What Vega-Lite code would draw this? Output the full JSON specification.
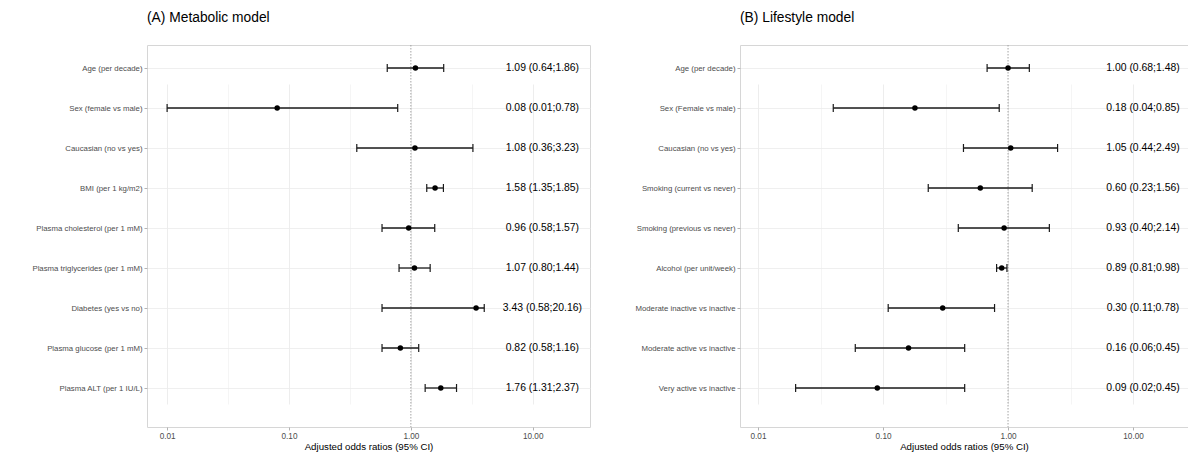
{
  "$schema": "https://vega.github.io/schema/vega-lite/v6.json",
  "padding": {"left": 0, "top": 10, "right": 0, "bottom": 0},
  "spacing": 0,
  "config": {
    "font": "Liberation Sans",
    "view": {"stroke": "#d6d6d6", "strokeWidth": 1},
    "title": {"fontSize": 13.8, "fontWeight": "normal", "anchor": "start", "frame": "group", "color": "#000000", "offset": 20},
    "axisX": {
      "labelOverlap": false,
      "labelFlush": false,
      "labelFontSize": 8.2,
      "labelColor": "#4d4d4d",
      "tickColor": "#b3b3b3",
      "tickSize": 3,
      "labelPadding": 2,
      "domain": false,
      "grid": true,
      "gridColor": "#ebebeb",
      "titleFontSize": 9.7,
      "titleFontWeight": "normal",
      "titleColor": "#000000",
      "titlePadding": 2
    },
    "axisY": {
      "title": null,
      "labelFontSize": 7.8,
      "labelColor": "#4d4d4d",
      "tickColor": "#b3b3b3",
      "tickSize": 3,
      "labelPadding": 2,
      "domain": false,
      "grid": true,
      "gridColor": "#ebebeb",
      "gridWidth": 0.8,
      "labelLimit": 0
    }
  },
  "hconcat": [
    {
      "width": 443,
      "height": 382,
      "title": "(A) Metabolic model",
      "data": {"values": [
        {"variable": "Age (per decade)", "or": 1.09, "lower": 0.64, "upper": 1.86, "label": "1.09 (0.64;1.86)"},
        {"variable": "Sex (female vs male)", "or": 0.08, "lower": 0.01, "upper": 0.78, "label": "0.08 (0.01;0.78)"},
        {"variable": "Caucasian (no vs yes)", "or": 1.08, "lower": 0.36, "upper": 3.23, "label": "1.08 (0.36;3.23)"},
        {"variable": "BMI (per 1 kg/m2)", "or": 1.58, "lower": 1.35, "upper": 1.85, "label": "1.58 (1.35;1.85)"},
        {"variable": "Plasma cholesterol (per 1 mM)", "or": 0.96, "lower": 0.58, "upper": 1.57, "label": "0.96 (0.58;1.57)"},
        {"variable": "Plasma triglycerides (per 1 mM)", "or": 1.07, "lower": 0.80, "upper": 1.44, "label": "1.07 (0.80;1.44)"},
        {"variable": "Diabetes (yes vs no)", "or": 3.43, "lower": 0.58, "upper": 4.0, "label": "3.43 (0.58;20.16)"},
        {"variable": "Plasma glucose (per 1 mM)", "or": 0.82, "lower": 0.58, "upper": 1.16, "label": "0.82 (0.58;1.16)"},
        {"variable": "Plasma ALT (per 1 IU/L)", "or": 1.76, "lower": 1.31, "upper": 2.37, "label": "1.76 (1.31;2.37)"}
      ]},
      "layer": [
        {
          "data": {"values": [{}]},
          "mark": {"type": "rule", "color": "#9a9a9a", "strokeDash": [1.5, 1.5], "strokeWidth": 0.9},
          "encoding": {
            "x": {"datum": 1, "type": "quantitative", "scale": {"type": "log", "domain": [0.00684, 29.5], "nice": false},
              "axis": {"title": "Adjusted odds ratios (95% CI)", "values": [0.01, 0.0316228, 0.1, 0.316228, 1, 3.16228, 10],
                "labelExpr": "(datum.value == 0.01 || datum.value == 0.1 || datum.value == 1 || datum.value == 10) ? format(datum.value, '.2f') : ''",
                "tickOpacity": {"condition": {"test": "datum.value == 0.01 || datum.value == 0.1 || datum.value == 1 || datum.value == 10", "value": 1}, "value": 0},
                "gridWidth": {"condition": {"test": "datum.value == 0.01 || datum.value == 0.1 || datum.value == 1 || datum.value == 10", "value": 0.9}, "value": 0.5}}}
          }
        },
        {
          "mark": {"type": "rule", "color": "#1a1a1a", "strokeWidth": 1.3},
          "encoding": {
            "x": {"field": "lower", "type": "quantitative", "scale": {"type": "log", "domain": [0.00684, 29.5], "nice": false},
              "axis": {"title": "Adjusted odds ratios (95% CI)", "values": [0.01, 0.0316228, 0.1, 0.316228, 1, 3.16228, 10],
                "labelExpr": "(datum.value == 0.01 || datum.value == 0.1 || datum.value == 1 || datum.value == 10) ? format(datum.value, '.2f') : ''",
                "tickOpacity": {"condition": {"test": "datum.value == 0.01 || datum.value == 0.1 || datum.value == 1 || datum.value == 10", "value": 1}, "value": 0},
                "gridWidth": {"condition": {"test": "datum.value == 0.01 || datum.value == 0.1 || datum.value == 1 || datum.value == 10", "value": 0.9}, "value": 0.5}}},
            "x2": {"field": "upper"},
            "y": {"field": "variable", "type": "nominal", "sort": null, "scale": {"type": "point", "range": [23, 343], "padding": 0}, "axis": {"title": null, "minExtent": 146, "maxExtent": 146}}
          }
        },
        {
          "mark": {"type": "tick", "orient": "vertical", "size": 8, "thickness": 1.2, "color": "#1a1a1a", "opacity": 1},
          "encoding": {
            "x": {"field": "lower", "type": "quantitative", "scale": {"type": "log", "domain": [0.00684, 29.5], "nice": false},
              "axis": {"title": "Adjusted odds ratios (95% CI)", "values": [0.01, 0.0316228, 0.1, 0.316228, 1, 3.16228, 10],
                "labelExpr": "(datum.value == 0.01 || datum.value == 0.1 || datum.value == 1 || datum.value == 10) ? format(datum.value, '.2f') : ''",
                "tickOpacity": {"condition": {"test": "datum.value == 0.01 || datum.value == 0.1 || datum.value == 1 || datum.value == 10", "value": 1}, "value": 0},
                "gridWidth": {"condition": {"test": "datum.value == 0.01 || datum.value == 0.1 || datum.value == 1 || datum.value == 10", "value": 0.9}, "value": 0.5}}},
            "y": {"field": "variable", "type": "nominal", "sort": null, "scale": {"type": "point", "range": [23, 343], "padding": 0}, "axis": {"title": null, "minExtent": 146, "maxExtent": 146}}
          }
        },
        {
          "mark": {"type": "tick", "orient": "vertical", "size": 8, "thickness": 1.2, "color": "#1a1a1a", "opacity": 1},
          "encoding": {
            "x": {"field": "upper", "type": "quantitative", "scale": {"type": "log", "domain": [0.00684, 29.5], "nice": false},
              "axis": {"title": "Adjusted odds ratios (95% CI)", "values": [0.01, 0.0316228, 0.1, 0.316228, 1, 3.16228, 10],
                "labelExpr": "(datum.value == 0.01 || datum.value == 0.1 || datum.value == 1 || datum.value == 10) ? format(datum.value, '.2f') : ''",
                "tickOpacity": {"condition": {"test": "datum.value == 0.01 || datum.value == 0.1 || datum.value == 1 || datum.value == 10", "value": 1}, "value": 0},
                "gridWidth": {"condition": {"test": "datum.value == 0.01 || datum.value == 0.1 || datum.value == 1 || datum.value == 10", "value": 0.9}, "value": 0.5}}},
            "y": {"field": "variable", "type": "nominal", "sort": null, "scale": {"type": "point", "range": [23, 343], "padding": 0}, "axis": {"title": null, "minExtent": 146, "maxExtent": 146}}
          }
        },
        {
          "mark": {"type": "point", "filled": true, "size": 30, "color": "#000000", "opacity": 1},
          "encoding": {
            "x": {"field": "or", "type": "quantitative", "scale": {"type": "log", "domain": [0.00684, 29.5], "nice": false},
              "axis": {"title": "Adjusted odds ratios (95% CI)", "values": [0.01, 0.0316228, 0.1, 0.316228, 1, 3.16228, 10],
                "labelExpr": "(datum.value == 0.01 || datum.value == 0.1 || datum.value == 1 || datum.value == 10) ? format(datum.value, '.2f') : ''",
                "tickOpacity": {"condition": {"test": "datum.value == 0.01 || datum.value == 0.1 || datum.value == 1 || datum.value == 10", "value": 1}, "value": 0},
                "gridWidth": {"condition": {"test": "datum.value == 0.01 || datum.value == 0.1 || datum.value == 1 || datum.value == 10", "value": 0.9}, "value": 0.5}}},
            "y": {"field": "variable", "type": "nominal", "sort": null, "scale": {"type": "point", "range": [23, 343], "padding": 0}, "axis": {"title": null, "minExtent": 146, "maxExtent": 146}}
          }
        },
        {
          "mark": {"type": "text", "fontSize": 10.4, "color": "#000000", "align": "center", "baseline": "middle"},
          "encoding": {
            "x": {"datum": 12, "type": "quantitative", "scale": {"type": "log", "domain": [0.00684, 29.5], "nice": false},
              "axis": {"title": "Adjusted odds ratios (95% CI)", "values": [0.01, 0.0316228, 0.1, 0.316228, 1, 3.16228, 10],
                "labelExpr": "(datum.value == 0.01 || datum.value == 0.1 || datum.value == 1 || datum.value == 10) ? format(datum.value, '.2f') : ''",
                "tickOpacity": {"condition": {"test": "datum.value == 0.01 || datum.value == 0.1 || datum.value == 1 || datum.value == 10", "value": 1}, "value": 0},
                "gridWidth": {"condition": {"test": "datum.value == 0.01 || datum.value == 0.1 || datum.value == 1 || datum.value == 10", "value": 0.9}, "value": 0.5}}},
            "y": {"field": "variable", "type": "nominal", "sort": null, "scale": {"type": "point", "range": [23, 343], "padding": 0}, "axis": {"title": null, "minExtent": 146, "maxExtent": 146}},
            "text": {"field": "label"}
          }
        }
      ]
    },
    {
      "width": 448,
      "height": 382,
      "title": "(B) Lifestyle model",
      "data": {"values": [
        {"variable": "Age (per decade)", "or": 1.00, "lower": 0.68, "upper": 1.48, "label": "1.00 (0.68;1.48)"},
        {"variable": "Sex (Female vs male)", "or": 0.18, "lower": 0.04, "upper": 0.85, "label": "0.18 (0.04;0.85)"},
        {"variable": "Caucasian (no vs yes)", "or": 1.05, "lower": 0.44, "upper": 2.49, "label": "1.05 (0.44;2.49)"},
        {"variable": "Smoking (current vs never)", "or": 0.60, "lower": 0.23, "upper": 1.56, "label": "0.60 (0.23;1.56)"},
        {"variable": "Smoking (previous vs never)", "or": 0.93, "lower": 0.40, "upper": 2.14, "label": "0.93 (0.40;2.14)"},
        {"variable": "Alcohol (per unit/week)", "or": 0.89, "lower": 0.81, "upper": 0.98, "label": "0.89 (0.81;0.98)"},
        {"variable": "Moderate inactive vs inactive", "or": 0.30, "lower": 0.11, "upper": 0.78, "label": "0.30 (0.11;0.78)"},
        {"variable": "Moderate active vs inactive", "or": 0.16, "lower": 0.06, "upper": 0.45, "label": "0.16 (0.06;0.45)"},
        {"variable": "Very active vs inactive", "or": 0.09, "lower": 0.02, "upper": 0.45, "label": "0.09 (0.02;0.45)"}
      ]},
      "layer": [
        {
          "data": {"values": [{}]},
          "mark": {"type": "rule", "color": "#9a9a9a", "strokeDash": [1.5, 1.5], "strokeWidth": 0.9},
          "encoding": {
            "x": {"datum": 1, "type": "quantitative", "scale": {"type": "log", "domain": [0.00718, 27.5], "nice": false},
              "axis": {"title": "Adjusted odds ratios (95% CI)", "values": [0.01, 0.0316228, 0.1, 0.316228, 1, 3.16228, 10],
                "labelExpr": "(datum.value == 0.01 || datum.value == 0.1 || datum.value == 1 || datum.value == 10) ? format(datum.value, '.2f') : ''",
                "tickOpacity": {"condition": {"test": "datum.value == 0.01 || datum.value == 0.1 || datum.value == 1 || datum.value == 10", "value": 1}, "value": 0},
                "gridWidth": {"condition": {"test": "datum.value == 0.01 || datum.value == 0.1 || datum.value == 1 || datum.value == 10", "value": 0.9}, "value": 0.5}}}
          }
        },
        {
          "mark": {"type": "rule", "color": "#1a1a1a", "strokeWidth": 1.3},
          "encoding": {
            "x": {"field": "lower", "type": "quantitative", "scale": {"type": "log", "domain": [0.00718, 27.5], "nice": false},
              "axis": {"title": "Adjusted odds ratios (95% CI)", "values": [0.01, 0.0316228, 0.1, 0.316228, 1, 3.16228, 10],
                "labelExpr": "(datum.value == 0.01 || datum.value == 0.1 || datum.value == 1 || datum.value == 10) ? format(datum.value, '.2f') : ''",
                "tickOpacity": {"condition": {"test": "datum.value == 0.01 || datum.value == 0.1 || datum.value == 1 || datum.value == 10", "value": 1}, "value": 0},
                "gridWidth": {"condition": {"test": "datum.value == 0.01 || datum.value == 0.1 || datum.value == 1 || datum.value == 10", "value": 0.9}, "value": 0.5}}},
            "x2": {"field": "upper"},
            "y": {"field": "variable", "type": "nominal", "sort": null, "scale": {"type": "point", "range": [23, 343], "padding": 0}, "axis": {"title": null, "minExtent": 148, "maxExtent": 148}}
          }
        },
        {
          "mark": {"type": "tick", "orient": "vertical", "size": 8, "thickness": 1.2, "color": "#1a1a1a", "opacity": 1},
          "encoding": {
            "x": {"field": "lower", "type": "quantitative", "scale": {"type": "log", "domain": [0.00718, 27.5], "nice": false},
              "axis": {"title": "Adjusted odds ratios (95% CI)", "values": [0.01, 0.0316228, 0.1, 0.316228, 1, 3.16228, 10],
                "labelExpr": "(datum.value == 0.01 || datum.value == 0.1 || datum.value == 1 || datum.value == 10) ? format(datum.value, '.2f') : ''",
                "tickOpacity": {"condition": {"test": "datum.value == 0.01 || datum.value == 0.1 || datum.value == 1 || datum.value == 10", "value": 1}, "value": 0},
                "gridWidth": {"condition": {"test": "datum.value == 0.01 || datum.value == 0.1 || datum.value == 1 || datum.value == 10", "value": 0.9}, "value": 0.5}}},
            "y": {"field": "variable", "type": "nominal", "sort": null, "scale": {"type": "point", "range": [23, 343], "padding": 0}, "axis": {"title": null, "minExtent": 148, "maxExtent": 148}}
          }
        },
        {
          "mark": {"type": "tick", "orient": "vertical", "size": 8, "thickness": 1.2, "color": "#1a1a1a", "opacity": 1},
          "encoding": {
            "x": {"field": "upper", "type": "quantitative", "scale": {"type": "log", "domain": [0.00718, 27.5], "nice": false},
              "axis": {"title": "Adjusted odds ratios (95% CI)", "values": [0.01, 0.0316228, 0.1, 0.316228, 1, 3.16228, 10],
                "labelExpr": "(datum.value == 0.01 || datum.value == 0.1 || datum.value == 1 || datum.value == 10) ? format(datum.value, '.2f') : ''",
                "tickOpacity": {"condition": {"test": "datum.value == 0.01 || datum.value == 0.1 || datum.value == 1 || datum.value == 10", "value": 1}, "value": 0},
                "gridWidth": {"condition": {"test": "datum.value == 0.01 || datum.value == 0.1 || datum.value == 1 || datum.value == 10", "value": 0.9}, "value": 0.5}}},
            "y": {"field": "variable", "type": "nominal", "sort": null, "scale": {"type": "point", "range": [23, 343], "padding": 0}, "axis": {"title": null, "minExtent": 148, "maxExtent": 148}}
          }
        },
        {
          "mark": {"type": "point", "filled": true, "size": 30, "color": "#000000", "opacity": 1},
          "encoding": {
            "x": {"field": "or", "type": "quantitative", "scale": {"type": "log", "domain": [0.00718, 27.5], "nice": false},
              "axis": {"title": "Adjusted odds ratios (95% CI)", "values": [0.01, 0.0316228, 0.1, 0.316228, 1, 3.16228, 10],
                "labelExpr": "(datum.value == 0.01 || datum.value == 0.1 || datum.value == 1 || datum.value == 10) ? format(datum.value, '.2f') : ''",
                "tickOpacity": {"condition": {"test": "datum.value == 0.01 || datum.value == 0.1 || datum.value == 1 || datum.value == 10", "value": 1}, "value": 0},
                "gridWidth": {"condition": {"test": "datum.value == 0.01 || datum.value == 0.1 || datum.value == 1 || datum.value == 10", "value": 0.9}, "value": 0.5}}},
            "y": {"field": "variable", "type": "nominal", "sort": null, "scale": {"type": "point", "range": [23, 343], "padding": 0}, "axis": {"title": null, "minExtent": 148, "maxExtent": 148}}
          }
        },
        {
          "mark": {"type": "text", "fontSize": 10.4, "color": "#000000", "align": "center", "baseline": "middle"},
          "encoding": {
            "x": {"datum": 12, "type": "quantitative", "scale": {"type": "log", "domain": [0.00718, 27.5], "nice": false},
              "axis": {"title": "Adjusted odds ratios (95% CI)", "values": [0.01, 0.0316228, 0.1, 0.316228, 1, 3.16228, 10],
                "labelExpr": "(datum.value == 0.01 || datum.value == 0.1 || datum.value == 1 || datum.value == 10) ? format(datum.value, '.2f') : ''",
                "tickOpacity": {"condition": {"test": "datum.value == 0.01 || datum.value == 0.1 || datum.value == 1 || datum.value == 10", "value": 1}, "value": 0},
                "gridWidth": {"condition": {"test": "datum.value == 0.01 || datum.value == 0.1 || datum.value == 1 || datum.value == 10", "value": 0.9}, "value": 0.5}}},
            "y": {"field": "variable", "type": "nominal", "sort": null, "scale": {"type": "point", "range": [23, 343], "padding": 0}, "axis": {"title": null, "minExtent": 148, "maxExtent": 148}},
            "text": {"field": "label"}
          }
        }
      ]
    }
  ]
}
